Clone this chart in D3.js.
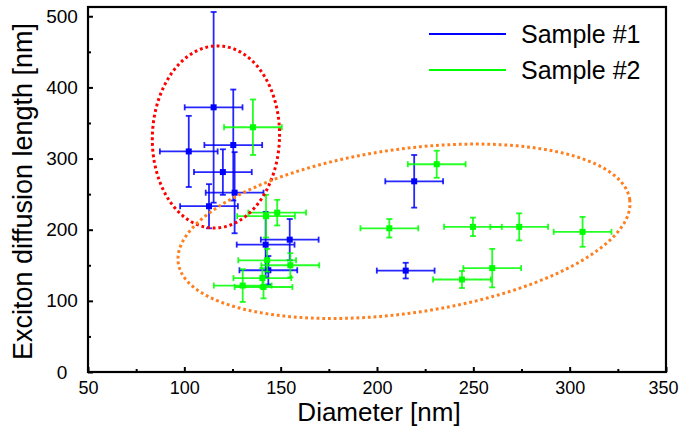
<!DOCTYPE html>
<html>
<head>
<meta charset="utf-8">
<script src="https://cdn.jsdelivr.net/npm/d3@7"></script>
<style>
    body { margin: 0; background: #fff; }
    text { font-family: "Liberation Sans", Arial, sans-serif; fill: #000; }
</style>
</head>
<body>
<svg id="chart" width="680" height="430"></svg>
<script>
// tick values
const xTicks = [50, 100, 150, 200, 250, 300, 350];
const xMinorTicks = [75, 125, 175, 225, 275, 325];
const yTicks = [0, 100, 200, 300, 400, 500];
const yMinorTicks = [50, 150, 250, 350, 450];

const seriesNames = ["Sample #1", "Sample #2"];

// Sample #1 (blue)
const s1Diameter = [115.2, 102.3, 125.4, 120.0, 126.1, 112.8, 142.2, 143.6, 154.7, 219.3, 214.9];
const s1Length = [372, 310, 319, 281, 252, 233, 179, 143, 186, 268, 142.5];
const s1DiameterErr = [15, 15, 15, 15, 15, 15, 15, 15, 15, 15, 15];
const s1LengthErr = [134, 50, 78, 32, 57, 31, 46, 20, 29, 37, 11];

// Sample #2 (green)
const s2Diameter = [135.6, 142.4, 148.2, 143.0, 155.0, 140.5, 130.3, 141.1, 231.0, 206.4, 249.8, 273.8, 306.7, 259.8, 244.1];
const s2Length = [344, 219, 224, 157, 150, 132, 121.5, 119.5, 292, 202, 204, 204, 197, 146, 130];
const s2DiameterErr = [15, 15, 15, 15, 15, 15, 15, 15, 15, 15, 15, 15, 15, 15, 15];
const s2LengthErr = [39, 30, 18, 16, 17, 14, 23, 16, 19, 13, 13, 19, 21, 27, 12];

// dotted ellipses, in data units (tilt in degrees on screen)
const ellipseCx = [116.4, 214];
const ellipseCy = [330.4, 197.8];
const ellipseRx = [33, 118.3];
const ellipseRy = [128, 115.3];
const ellipseTilt = [2, -8];

const colors = ["#0000ff", "#00ff00"];
const ellipseColors = ["#ff0000", "#ff7f1e"];

const svg = d3.select("#chart");
const plotLeft = 88, plotRight = 666, plotTop = 7, plotBottom = 372;

const x = d3.scaleLinear().domain([50, 350]).range([plotLeft, plotRight]);
const y = d3.scaleLinear().domain([0, 513]).range([plotBottom, plotTop]);

// axes with inward ticks
const xAxis = svg.append("g").attr("transform", `translate(0,${plotBottom})`)
    .call(d3.axisBottom(x).tickValues(xTicks).tickSize(-5).tickPadding(8));
svg.append("g").attr("transform", `translate(0,${plotBottom})`)
    .call(d3.axisBottom(x).tickValues(xMinorTicks).tickSize(-3).tickFormat(""));
const yAxis = svg.append("g").attr("transform", `translate(${plotLeft},0)`)
    .call(d3.axisLeft(y).tickValues(yTicks).tickSize(-5));
svg.append("g").attr("transform", `translate(${plotLeft},0)`)
    .call(d3.axisLeft(y).tickValues(yMinorTicks).tickSize(-3).tickFormat(""));

svg.selectAll(".domain").remove();
svg.selectAll(".tick line").attr("stroke", "#000").attr("stroke-width", 2);
xAxis.selectAll("text").attr("font-size", 18).attr("dy", "0.71em").attr("y", 9);
// last label sits against the window edge, pull it in a bit
xAxis.selectAll(".tick:last-of-type text").attr("dx", -3);
yAxis.selectAll("text").attr("font-size", 19).attr("text-anchor", "middle").attr("x", -26);
svg.selectAll(".tick text").style("font-family", "'Liberation Sans', Arial, sans-serif");

// frame
svg.append("rect")
    .attr("x", plotLeft).attr("y", plotTop)
    .attr("width", plotRight - plotLeft).attr("height", plotBottom - plotTop)
    .attr("fill", "none").attr("stroke", "#000").attr("stroke-width", 2.2);

// axis titles
svg.append("text")
    .attr("x", (plotLeft + plotRight) / 2 + 2).attr("y", 421)
    .attr("text-anchor", "middle").attr("font-size", 26)
    .text("Diameter [nm]");
svg.append("text")
    .attr("transform", `translate(32,${(plotTop + plotBottom) / 2 + 2}) rotate(-90)`)
    .attr("text-anchor", "middle").attr("font-size", 27)
    .text("Exciton diffusion length [nm]");

// error bars + markers
function drawSeries(xs, ys, xe, ye, color) {
    const g = svg.append("g");
    const cap = 3;
    xs.forEach((d, i) => {
        const px = x(d), py = y(ys[i]);
        const x0 = x(d - xe[i]), x1 = x(d + xe[i]);
        const y0 = y(ys[i] - ye[i]), y1 = y(ys[i] + ye[i]);
        const bar = g.append("g")
            .attr("stroke", color).attr("stroke-width", 1.8).attr("stroke-opacity", 0.85);
        bar.append("line").attr("x1", x0).attr("x2", x1).attr("y1", py).attr("y2", py);
        bar.append("line").attr("x1", x0).attr("x2", x0).attr("y1", py - cap).attr("y2", py + cap);
        bar.append("line").attr("x1", x1).attr("x2", x1).attr("y1", py - cap).attr("y2", py + cap);
        bar.append("line").attr("x1", px).attr("x2", px).attr("y1", y0).attr("y2", y1);
        bar.append("line").attr("x1", px - cap).attr("x2", px + cap).attr("y1", y0).attr("y2", y0);
        bar.append("line").attr("x1", px - cap).attr("x2", px + cap).attr("y1", y1).attr("y2", y1);
        g.append("rect")
            .attr("x", px - 3).attr("y", py - 3)
            .attr("width", 6).attr("height", 6)
            .attr("fill", color);
    });
}

drawSeries(s1Diameter, s1Length, s1DiameterErr, s1LengthErr, colors[0]);
drawSeries(s2Diameter, s2Length, s2DiameterErr, s2LengthErr, colors[1]);

// dotted ellipses
const kx = Math.abs(x(1) - x(0)), ky = Math.abs(y(1) - y(0));
const ellipseLine = d3.line().curve(d3.curveLinearClosed);
ellipseCx.forEach((cx, i) => {
    const a = ellipseRx[i] * kx, b = ellipseRy[i] * ky;
    const t = ellipseTilt[i] * Math.PI / 180;
    const pts = d3.range(0, 360, 1).map(deg => {
        const u = deg * Math.PI / 180;
        const ex = a * Math.cos(u), ey = b * Math.sin(u);
        return [x(cx) + ex * Math.cos(t) - ey * Math.sin(t),
                y(ellipseCy[i]) + ex * Math.sin(t) + ey * Math.cos(t)];
    });
    svg.append("path")
        .attr("d", ellipseLine(pts))
        .attr("fill", "none")
        .attr("stroke", ellipseColors[i])
        .attr("stroke-width", 3)
        .attr("stroke-dasharray", "2.8 2.9");
});

// legend
const legend = svg.append("g");
seriesNames.forEach((name, i) => {
    const ly = 34 + i * 36;
    legend.append("line")
        .attr("x1", 429).attr("x2", 506).attr("y1", ly).attr("y2", ly)
        .attr("stroke", colors[i]).attr("stroke-width", 2);
    legend.append("text")
        .attr("x", 521).attr("y", ly + 9)
        .attr("font-size", 25)
        .text(name);
});
</script>
</body>
</html>
